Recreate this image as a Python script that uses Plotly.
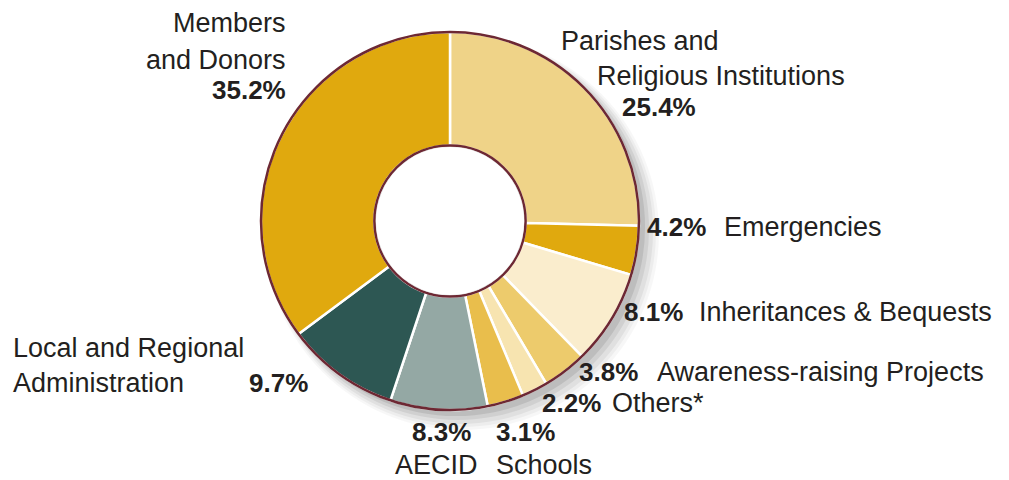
import plotly.graph_objects as go

# The page body has an 8px default margin, so the figure is drawn 8px in
# from the window's top-left corner; size it to fit the 1009x480 window.
WIN_W, WIN_H = 1009, 480
OFF = 8
W, H = WIN_W - OFF, WIN_H - OFF

# ---- data ----
categories = ["Parishes and Religious Institutions", "Emergencies", "Inheritances & Bequests",
              "Awareness-raising Projects", "Others*", "Schools", "AECID",
              "Local and Regional Administration", "Members and Donors"]
values = [25.4, 4.2, 8.1, 3.8, 2.2, 3.1, 8.3, 9.7, 35.2]
colors = ["#EFD388", "#E0A90E", "#FAEDCD", "#EDCB6C", "#F7E4B0", "#E9BE4C",
          "#94A8A4", "#2D5753", "#E0A90E"]
pct_labels = [f"{v:.1f}%" for v in values]

# ---- geometry (window pixels) ----
CX, CY, R = 450, 221, 189
HOLE = 0.40
MAROON = "#6D2833"
TXT = "#231F20"
FONT = "Liberation Sans, Arial, sans-serif"


def px(x):
    return (x - OFF) / W


def py(y):
    return 1 - (y - OFF) / H


def dom(cx, cy, r):
    return dict(x=[px(cx - r), px(cx + r)], y=[py(cy + r), py(cy - r)])


fig = go.Figure()

# soft drop shadow
for off, dr, a in [(12, 8, 0.03), (11, 6, 0.04), (10, 4, 0.05), (8, 2, 0.07), (6, 0, 0.09)]:
    fig.add_trace(go.Pie(values=[1], marker=dict(colors=[f"rgba(0,0,0,{a})"], line=dict(width=0)),
                         domain=dom(CX + off, CY + off, R + dr), hole=0.0, textinfo="none",
                         hoverinfo="skip", showlegend=False, sort=False))

# main donut
fig.add_trace(go.Pie(labels=categories, values=values, hole=HOLE, sort=False, direction="clockwise",
                     rotation=0, marker=dict(colors=colors, line=dict(color="white", width=2.5)),
                     textinfo="none", domain=dom(CX, CY, R), showlegend=False))

# maroon outer + inner rim
fig.add_trace(go.Pie(values=[1], hole=HOLE, marker=dict(colors=["rgba(0,0,0,0)"], line=dict(color=MAROON, width=2.5)),
                     textinfo="none", hoverinfo="skip", domain=dom(CX, CY, R), showlegend=False, sort=False))

# white hole filler so the shadow does not show in the centre
fig.add_trace(go.Pie(values=[1], marker=dict(colors=["white"], line=dict(width=0)),
                     textinfo="none", hoverinfo="skip", domain=dom(CX, CY, R * HOLE - 1.5),
                     showlegend=False, sort=False))


def ann(text, x, y, xanchor="left", bold=False):
    fig.add_annotation(text=f"<b>{text}</b>" if bold else text, x=px(x), y=py(y),
                       xref="paper", yref="paper", xanchor=xanchor, yanchor="middle",
                       showarrow=False,
                       font=dict(family=FONT, size=26 if bold else 27, color=TXT))


# Members and Donors
ann("Members", 288, 23, "right")
ann("and Donors", 288, 60, "right")
ann(pct_labels[8], 288, 90, "right", True)
# Parishes
ann("Parishes and", 559, 41)
ann("Religious Institutions", 595, 76)
ann(pct_labels[0], 620, 107, bold=True)
# Emergencies
ann(pct_labels[1], 645, 227, bold=True)
ann("Emergencies", 722, 227)
# Inheritances
ann(pct_labels[2], 622, 312, bold=True)
ann("Inheritances & Bequests", 697, 312)
# Awareness
ann(pct_labels[3], 577, 372, bold=True)
ann("Awareness-raising Projects", 655, 372)
# Others
ann(pct_labels[4], 540, 403, bold=True)
ann("Others*", 610, 403)
# Schools
ann(pct_labels[5], 494, 432, bold=True)
ann("Schools", 494, 465)
# AECID
ann(pct_labels[6], 441, 432, "center", True)
ann("AECID", 436, 465, "center")
# Local and Regional Administration
ann("Local and Regional", 11, 348)
ann("Administration", 11, 383)
ann(pct_labels[7], 247, 383, bold=True)

fig.update_layout(width=W, height=H, margin=dict(l=0, r=0, t=0, b=0),
                  paper_bgcolor="white", plot_bgcolor="white", showlegend=False)

fig.write_html("out.html")
